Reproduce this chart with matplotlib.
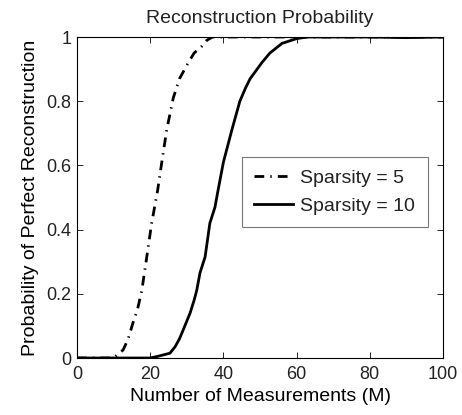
import matplotlib.pyplot as plt
import numpy as np

plt.rcParams['font.family'] = ['Liberation Sans', 'DejaVu Sans']
plt.rcParams['text.color'] = '#222222'
plt.rcParams['xtick.labelcolor'] = '#222222'
plt.rcParams['ytick.labelcolor'] = '#222222'

# values
m_s5 = [0, 10, 11, 12.6, 14, 15.3, 16.5, 17.7, 19, 20.4, 22, 23.3, 24.5, 26.3,
        28, 30.4, 32, 34, 35.5, 37, 45, 60, 80, 100]
p_s5 = [0, 0, 0.01, 0.025, 0.06, 0.11, 0.15, 0.21, 0.31, 0.42, 0.52, 0.62, 0.71,
        0.81, 0.87, 0.92, 0.95, 0.97, 0.99, 1.0, 1.0, 1.0, 1.0, 1.0]

m_s10 = [0, 20, 22, 25.4, 26.8, 28, 29, 30.9, 32, 32.7, 33.6, 35, 36.3, 37.7,
         38.5, 40, 42.3, 44.5, 46, 47.3, 50.5, 52.7, 56, 60, 63, 70, 80, 90, 100]
p_s10 = [0, 0, 0.005, 0.015, 0.035, 0.06, 0.087, 0.14, 0.18, 0.21, 0.265, 0.315,
         0.42, 0.47, 0.52, 0.61, 0.71, 0.80, 0.84, 0.87, 0.92, 0.95, 0.98, 0.995,
         1.0, 1.0, 1.0, 0.998, 1.0]

fig = plt.figure(figsize=(4.62, 4.15), dpi=100)
ax = fig.add_axes([77 / 462, 57 / 415, 366 / 462, 321 / 415])

ax.plot(m_s5, p_s5, color='black', lw=2.0, dashes=(3.5, 2.2, 0.5, 2.2),
        label='Sparsity = 5')
ax.plot(m_s10, p_s10, color='black', lw=2.0, label='Sparsity = 10')

ax.set_xlim(0, 100)
ax.set_ylim(0, 1)
ax.set_xticks([0, 20, 40, 60, 80, 100])
ax.set_yticks([0, 0.2, 0.4, 0.6, 0.8, 1])
ax.set_yticklabels(['0', '0.2', '0.4', '0.6', '0.8', '1'])
ax.tick_params(direction='in', top=True, right=True, length=4, width=0.6,
               labelsize=13)
ax.tick_params(axis='x', pad=6)
ax.tick_params(axis='y', pad=4)
for s in ax.spines.values():
    s.set_linewidth(0.8)

ax.set_title('Reconstruction Probability', fontsize=14, pad=10)
ax.set_xlabel('Number of Measurements (M)', fontsize=14, labelpad=3)
ax.set_ylabel('Probability of Perfect Reconstruction', fontsize=14, labelpad=5)

leg = ax.legend(loc='upper left', bbox_to_anchor=(0.45, 0.626), fontsize=14,
                frameon=True, fancybox=False, edgecolor='#555555',
                handlelength=2.0, borderpad=0.65, labelspacing=0.5,
                handletextpad=0.35, borderaxespad=0)
leg.get_frame().set_linewidth(0.8)

fig.savefig('out.png', dpi=100)
